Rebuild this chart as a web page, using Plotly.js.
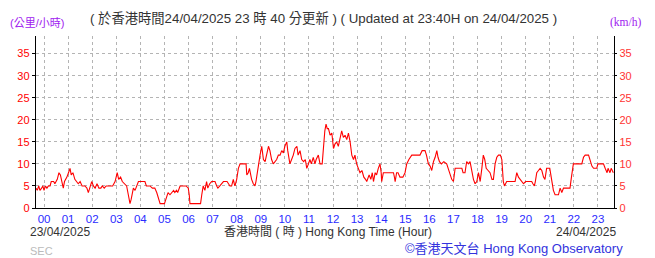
<!DOCTYPE html>
<html>
<head>
<meta charset="utf-8">
<script src="https://cdn.plot.ly/plotly-3.0.1.min.js"></script>
<style>
html,body{margin:0;padding:0;background:#fff;}
#chart{width:655px;height:258px;}
</style>
</head>
<body>
<div id="chart"></div>
<script>
// time in hours (HKT, 24/04/2025; negative = 23/04/2025)
const hours = [-0.33,-0.28,-0.22,-0.17,-0.10,-0.05,0.0,0.06,0.12,0.18,0.25,0.30,0.40,0.45,0.55,0.62,0.68,0.75,0.80,0.85,0.95,1.05,1.08,1.13,1.20,1.28,1.36,1.42,1.50,1.58,1.70,1.78,1.84,1.90,1.98,2.05,2.12,2.20,2.28,2.36,2.42,2.50,2.58,2.66,2.74,2.85,2.95,3.04,3.10,3.18,3.25,3.35,3.43,3.50,3.57,3.62,3.71,3.78,3.85,3.92,4.00,4.19,4.25,4.40,4.50,4.60,4.68,4.75,4.82,5.00,5.08,5.15,5.23,5.30,5.38,5.43,5.50,5.55,5.62,5.65,5.90,5.99,6.03,6.06,6.20,6.50,6.55,6.61,6.68,6.75,6.80,6.88,6.96,7.10,7.17,7.22,7.30,7.38,7.45,7.60,7.72,7.79,7.86,7.90,7.93,8.00,8.07,8.14,8.39,8.42,8.48,8.53,8.58,8.62,8.69,8.76,8.80,8.90,8.97,9.04,9.08,9.11,9.18,9.25,9.32,9.38,9.45,9.52,9.60,9.66,9.73,9.80,9.87,9.94,10.0,10.08,10.12,10.15,10.21,10.28,10.35,10.42,10.50,10.55,10.63,10.70,10.78,10.85,10.91,10.98,11.04,11.10,11.18,11.25,11.30,11.39,11.46,11.55,11.60,11.66,11.71,11.76,11.81,11.88,11.95,12.02,12.08,12.15,12.22,12.29,12.36,12.43,12.50,12.57,12.64,12.71,12.78,12.85,12.91,12.98,13.05,13.12,13.20,13.28,13.35,13.40,13.50,13.57,13.63,13.68,13.75,13.81,13.88,13.95,14.00,14.02,14.09,14.30,14.51,14.55,14.58,14.64,14.70,14.78,14.90,14.99,15.06,15.15,15.27,15.61,15.70,15.82,15.88,15.96,16.03,16.10,16.17,16.24,16.31,16.36,16.42,16.50,16.60,16.72,16.80,16.87,16.93,17.00,17.07,17.20,17.35,17.40,17.48,17.55,17.62,17.69,17.76,17.83,17.90,17.97,18.04,18.11,18.18,18.24,18.30,18.36,18.44,18.52,18.60,18.66,18.73,18.80,18.87,18.95,19.01,19.07,19.12,19.21,19.40,19.56,19.63,19.70,19.77,19.85,19.91,20.00,20.11,20.25,20.30,20.36,20.40,20.46,20.53,20.60,20.67,20.74,20.80,20.87,21.00,21.08,21.15,21.22,21.36,21.43,21.50,21.57,21.84,21.90,21.98,22.10,22.33,22.40,22.47,22.61,22.68,22.75,22.82,22.95,23.00,23.23,23.30,23.38,23.42,23.50,23.55,23.64];
// wind speed, km/h
const speed = [4.5,4,5,4,4.5,5,4,5,4.5,5,5,6,6,5.5,6.5,8,7.5,6,4.5,6,7,8.5,9,7.5,8,6.5,6,5.5,6,5,5,4.5,3.5,4.5,6,5,4.5,5.5,4.5,4.5,5,4.5,5,5,5,5,6,8,6.5,7,6,5.5,5,3,1,2,4.5,4,5,6,6,6,5,5,4.5,4.5,3.5,2,1,1,2.5,3.5,3,3.5,4,3.5,4,3.5,4.5,5,5,4.5,3,1,1,1,3,5,4,6,4.5,5.5,6,6,5,4.5,5,5.5,6,6,5,5,6.5,5.5,5,6.5,9,10,10,7.5,8,9,7,6.5,5.5,5,6,10,12,14,12,11,10.5,12,14,13,11,10,10.5,11,12,12,13,12.5,14,15,13,12,10,11,12,13.5,14,12,13,11,10.5,11,9,10,11,10,11.5,10,11,12,10,10,14,17.5,19,18,18,16.5,17,13.5,14.5,15,14,16,17.5,16,16.5,15.5,17,15,12,11,12,10,9,8,8.5,7,6.5,6,7.5,6.5,8,6,8,7.5,9,10,8,6,8,8,8,7,6,8,8,7,7,8,10,11,12,12,13,13,12,10,9.5,8.5,10.5,11.5,13,11.5,10.5,10,10.5,10,8.5,7.5,6.5,6,9,9,9,8,8,10.5,10,10.5,8.5,6.5,5.5,6,8,6,9,12,11,9,8.5,8,6.5,6.5,10,11.5,12,12,11,6,5,6,6,6,8,7,6.5,6,5.5,6,6,6,5.5,5,6,8,8.5,9,8.5,7,6.5,9,9,6,4,3,3,4.5,3.5,4.5,4.5,7,10,10,10,11.5,12,12,10.5,9.5,9,9,10,10,9,8,9,8,9,8];
const hourTicks = [0,1,2,3,4,5,6,7,8,9,10,11,12,13,14,15,16,17,18,19,20,21,22,23];
const hourLabels = ["00","01","02","03","04","05","06","07","08","09","10","11","12","13","14","15","16","17","18","19","20","21","22","23"];
const speedTicks = [0,5,10,15,20,25,30,35];

const FONT = "Liberation Sans, 'Noto Sans CJK TC', sans-serif";

const traces = [
  {x: hours, y: speed, type: 'scatter', mode: 'lines',
   line: {color: '#ff0000', width: 1.1}, hoverinfo: 'skip', showlegend: false},
  {x: [hours[0]], y: [0], type: 'scatter', mode: 'lines', yaxis: 'y2',
   line: {color: 'rgba(0,0,0,0)'}, hoverinfo: 'skip', showlegend: false}
];

const gridStyle = {showgrid: true, gridcolor: '#b4b4b4', griddash: 'dot', gridwidth: 1};

const layout = {
  width: 655, height: 258,
  margin: {l: 36, r: 41, t: 36, b: 50, pad: 0},
  paper_bgcolor: '#ffffff', plot_bgcolor: '#ffffff',
  font: {family: FONT, size: 11, color: '#333'},
  xaxis: Object.assign({
    range: [-0.333, 23.667], tickvals: hourTicks, ticktext: hourLabels,
    tickfont: {family: FONT, size: 11.5, color: '#2b2bff'},
    ticks: '', ticklen: 0, showline: true, linecolor: '#000', linewidth: 1.2,
    zeroline: false, fixedrange: true
  }, gridStyle),
  yaxis: Object.assign({
    range: [0, 39], tickvals: speedTicks,
    tickfont: {family: FONT, size: 11, color: '#ff0000'},
    ticks: 'outside', ticklen: 3, tickcolor: '#000',
    showline: true, linecolor: '#000', linewidth: 1.2, zeroline: false, fixedrange: true
  }, gridStyle),
  yaxis2: {
    range: [0, 39], tickvals: speedTicks, overlaying: 'y', side: 'right',
    tickfont: {family: FONT, size: 11, color: '#ff3333'},
    ticks: 'outside', ticklen: 2, tickcolor: '#000',
    showline: true, linecolor: '#000', linewidth: 1.2, showgrid: false, zeroline: false, fixedrange: true
  },
  annotations: [
    {text: '(公里/小時)', xref: 'paper', yref: 'paper', x: -0.0484, y: 1.0756,
     xanchor: 'left', yanchor: 'middle', showarrow: false,
     font: {family: FONT, size: 11, color: '#a020f0'}},
    {text: '( 於香港時間24/04/2025 23 時 40 分更新 ) ( Updated at 23:40H on 24/04/2025 )',
     xref: 'paper', yref: 'paper', x: 0.09, y: 1.099, xanchor: 'left', yanchor: 'middle',
     showarrow: false, font: {family: FONT, size: 13.3, color: '#333'}},
    {text: '(km/h)', xref: 'paper', yref: 'paper', x: 0.9896, y: 1.0756,
     xanchor: 'left', yanchor: 'middle', showarrow: false,
     font: {family: "'Liberation Serif', serif", size: 11.5, color: '#a020f0'}},
    {text: '23/04/2025', xref: 'paper', yref: 'paper', x: -0.0138, y: -0.142,
     xanchor: 'left', yanchor: 'middle', showarrow: false,
     font: {family: FONT, size: 12, color: '#333'}},
    {text: '香港時間 ( 時 ) Hong Kong Time (Hour)', xref: 'paper', yref: 'paper', x: 0.505, y: -0.142,
     xanchor: 'center', yanchor: 'middle', showarrow: false,
     font: {family: FONT, size: 12, color: '#333'}},
    {text: '24/04/2025', xref: 'paper', yref: 'paper', x: 1.007, y: -0.142,
     xanchor: 'right', yanchor: 'middle', showarrow: false,
     font: {family: FONT, size: 12, color: '#333'}},
    {text: 'SEC', xref: 'paper', yref: 'paper', x: -0.0138, y: -0.248,
     xanchor: 'left', yanchor: 'middle', showarrow: false,
     font: {family: FONT, size: 11, color: '#bbbbbb'}},
    {text: '©香港天文台 Hong Kong Observatory', xref: 'paper', yref: 'paper', x: 0.635, y: -0.2326,
     xanchor: 'left', yanchor: 'middle', showarrow: false,
     font: {family: FONT, size: 13, color: '#3333dd'}}
  ]
};

Plotly.newPlot('chart', traces, layout, {staticPlot: true, displayModeBar: false});
</script>
</body>
</html>
